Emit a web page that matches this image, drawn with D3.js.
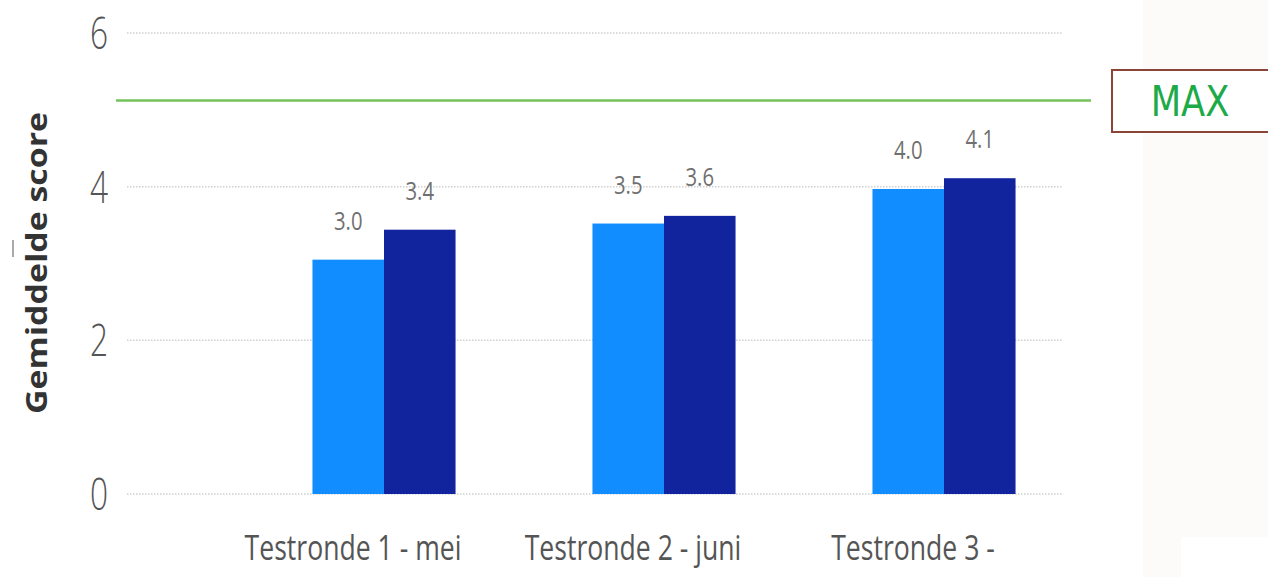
<!DOCTYPE html>
<html><head><meta charset="utf-8">
<script src="https://cdn.jsdelivr.net/npm/d3@7"></script>
<style>body{margin:0;background:#fff;}svg{display:block;}</style>
</head><body>
<svg id="c" width="1268" height="577"></svg>
<script>
const categories = ["Testronde 1 - mei", "Testronde 2 - juni", "Testronde 3 -"];
const series = ["A", "B"];
const seriesA = [3.05, 3.52, 3.97];
const seriesB = [3.44, 3.62, 4.11];
const labelsA = ["3.0", "3.5", "4.0"];
const labelsB = ["3.4", "3.6", "4.1"];
const yTicks = [0, 2, 4, 6];
const maxValue = 5.12;
const colors = ["#118DFF", "#12239E"];

const svg = d3.select("#c");
// right light background panel
svg.append("rect").attr("x",1143).attr("y",0).attr("width",125).attr("height",577).attr("fill","#FDFBFA");
svg.append("rect").attr("x",1181).attr("y",537).attr("width",87).attr("height",40).attr("fill","#fff");

const y = d3.scaleLinear().domain([0,6]).range([494,33]);
const x0 = d3.scaleBand().domain(categories).range([244,1084]).paddingInner(0.489).paddingOuter(0.2445);
const x1 = d3.scaleBand().domain(series).range([0, x0.bandwidth()]);

// gridlines
svg.append("g").selectAll("line").data(yTicks).join("line")
  .attr("x1",127).attr("x2",1062).attr("y1",d=>y(d)).attr("y2",d=>y(d))
  .attr("stroke","#d0d0d0").attr("stroke-width",1.5).attr("stroke-dasharray","1.5,1.5");

// y tick labels (tall, narrow)
svg.append("g").selectAll("text").data(yTicks).join("text")
  .attr("transform",d=>`translate(108,${y(d)+16}) scale(0.72,1)`).attr("text-anchor","end")
  .attr("font-family","Open Sans, sans-serif").attr("font-weight",300).attr("font-size",44)
  .attr("fill","#555").text(d=>d);

// y axis title
svg.append("text").attr("transform","translate(47,263) rotate(-90)").attr("text-anchor","middle")
  .attr("font-family","Open Sans, sans-serif").attr("font-weight",700).attr("font-size",29)
  .attr("textLength",302).attr("lengthAdjust","spacingAndGlyphs")
  .attr("fill","#333").text("Gemiddelde score");
svg.append("line").attr("x1",13).attr("x2",13).attr("y1",240).attr("y2",257).attr("stroke","#aaa").attr("stroke-width",2);

// bars
const data = categories.map((c,i)=>({c, vals:[{s:"A",v:seriesA[i],l:labelsA[i]},{s:"B",v:seriesB[i],l:labelsB[i]}]}));
const g = svg.append("g").selectAll("g").data(data).join("g").attr("transform",d=>`translate(${x0(d.c)},0)`);
g.selectAll("rect").data(d=>d.vals).join("rect")
  .attr("x",d=>x1(d.s)).attr("width",x1.bandwidth())
  .attr("y",d=>y(d.v)).attr("height",d=>y(0)-y(d.v))
  .attr("fill",(d,i)=>colors[i]);
g.selectAll("text").data(d=>d.vals).join("text")
  .attr("transform",d=>`translate(${x1(d.s)+x1.bandwidth()/2},${y(d.v)-30}) scale(0.78,1)`)
  .attr("text-anchor","middle").attr("font-family","Open Sans, sans-serif")
  .attr("font-size",26).attr("fill","#707070").text(d=>d.l);

// x labels (shifted left as in the reference)
svg.append("g").selectAll("text").data(categories).join("text")
  .attr("transform",d=>`translate(${x0(d)+x0.bandwidth()/2-31},560) scale(0.76,1)`).attr("text-anchor","middle")
  .attr("font-family","Open Sans, sans-serif").attr("font-size",35)
  .attr("fill","#555").text(d=>d);

// max line
svg.append("line").attr("x1",116).attr("x2",1091).attr("y1",y(maxValue)).attr("y2",y(maxValue))
  .attr("stroke","#74C25C").attr("stroke-width",2.5);
svg.append("rect").attr("x",1112).attr("y",70).attr("width",160).attr("height",62)
  .attr("fill","#fff").attr("stroke","#8A4438").attr("stroke-width",2);
svg.append("text").attr("transform","translate(1190,116) scale(0.84,1)").attr("text-anchor","middle")
  .attr("font-family","DejaVu Sans, sans-serif").attr("font-size",42).attr("fill","#1DAA48").text("MAX");
</script>
</body></html>
